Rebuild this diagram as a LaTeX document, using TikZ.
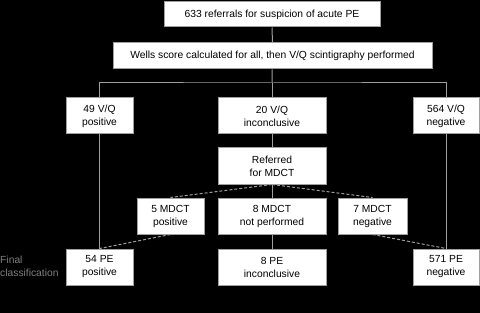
\documentclass[tikz,border=0pt]{standalone}
\usepackage{fontspec}
\setmainfont{Liberation Sans}
\begin{document}
\begin{tikzpicture}[x=1pt,y=-1pt,
  box/.style={draw=gray!75,fill=white,line width=1pt,inner sep=0pt,align=center,
    font=\fontsize{10.3}{13}\selectfont,text=black},
  ln/.style={draw=gray!75,line width=1pt},
  dl/.style={draw=gray!75,line width=1pt,dash pattern=on 3pt off 2pt}]
\fill[black] (0,0) rectangle (480,313);
\useasboundingbox (0,0) rectangle (480,313);
\node[box,minimum width=216pt,minimum height=25pt] (top) at (272,14.5) {633 referrals for suspicion of acute PE};
\node[box,minimum width=319pt,minimum height=26pt] (wells) at (272.5,56) {Wells score calculated for all, then V/Q scintigraphy performed};
\node[box,minimum width=67pt,minimum height=36pt] (vqpos) at (99.5,116) {49 V/Q\\positive};
\node[box,minimum width=108pt,minimum height=36pt] (vqinc) at (272,116) {20 V/Q\\inconclusive};
\node[box,minimum width=66pt,minimum height=36pt] (vqneg) at (446,116) {564 V/Q\\negative};
\node[box,minimum width=108pt,minimum height=36pt] (ref) at (272,166) {Referred\\for MDCT};
\node[box,minimum width=67pt,minimum height=36pt] (ctpos) at (170.5,216) {5 MDCT\\positive};
\node[box,minimum width=108pt,minimum height=36pt] (ctnp) at (272,216) {8 MDCT\\not performed};
\node[box,minimum width=69pt,minimum height=36pt] (ctneg) at (372.5,216) {7 MDCT\\negative};
\node[box,minimum width=67pt,minimum height=36pt] (pepos) at (99.5,267) {54 PE\\positive};
\node[box,minimum width=108pt,minimum height=36pt] (peinc) at (272,267) {8 PE\\inconclusive};
\node[box,minimum width=66pt,minimum height=36pt] (peneg) at (446,267) {571 PE\\negative};
\node[anchor=west,align=left,inner sep=0pt,text=gray,font=\fontsize{10.3}{13}\selectfont] (final) at (0,266) {Final\\classification};
\coordinate (bus) at (272,83);
\draw[ln] (top) -- (wells);
\draw[ln] (wells) -- (bus);
\draw[ln] (vqpos.north) |- (bus) -| (vqneg.north);
\draw[ln] (bus) -- (vqinc.north);
\draw[ln] (vqinc) -- (ref);
\draw[ln] (ref) -- (ctnp);
\draw[ln] (ctnp) -- (peinc);
\draw[ln] (vqpos) -- (pepos);
\draw[ln] (vqneg) -- (peneg);
\draw[dl] (ref.south) -- (ctpos.north);
\draw[dl] (ref.south) -- (ctneg.north);
\draw[dl] (ctpos.south) -- (pepos.north);
\draw[dl] (ctneg.south) -- (peneg.north);
\end{tikzpicture}
\end{document}
